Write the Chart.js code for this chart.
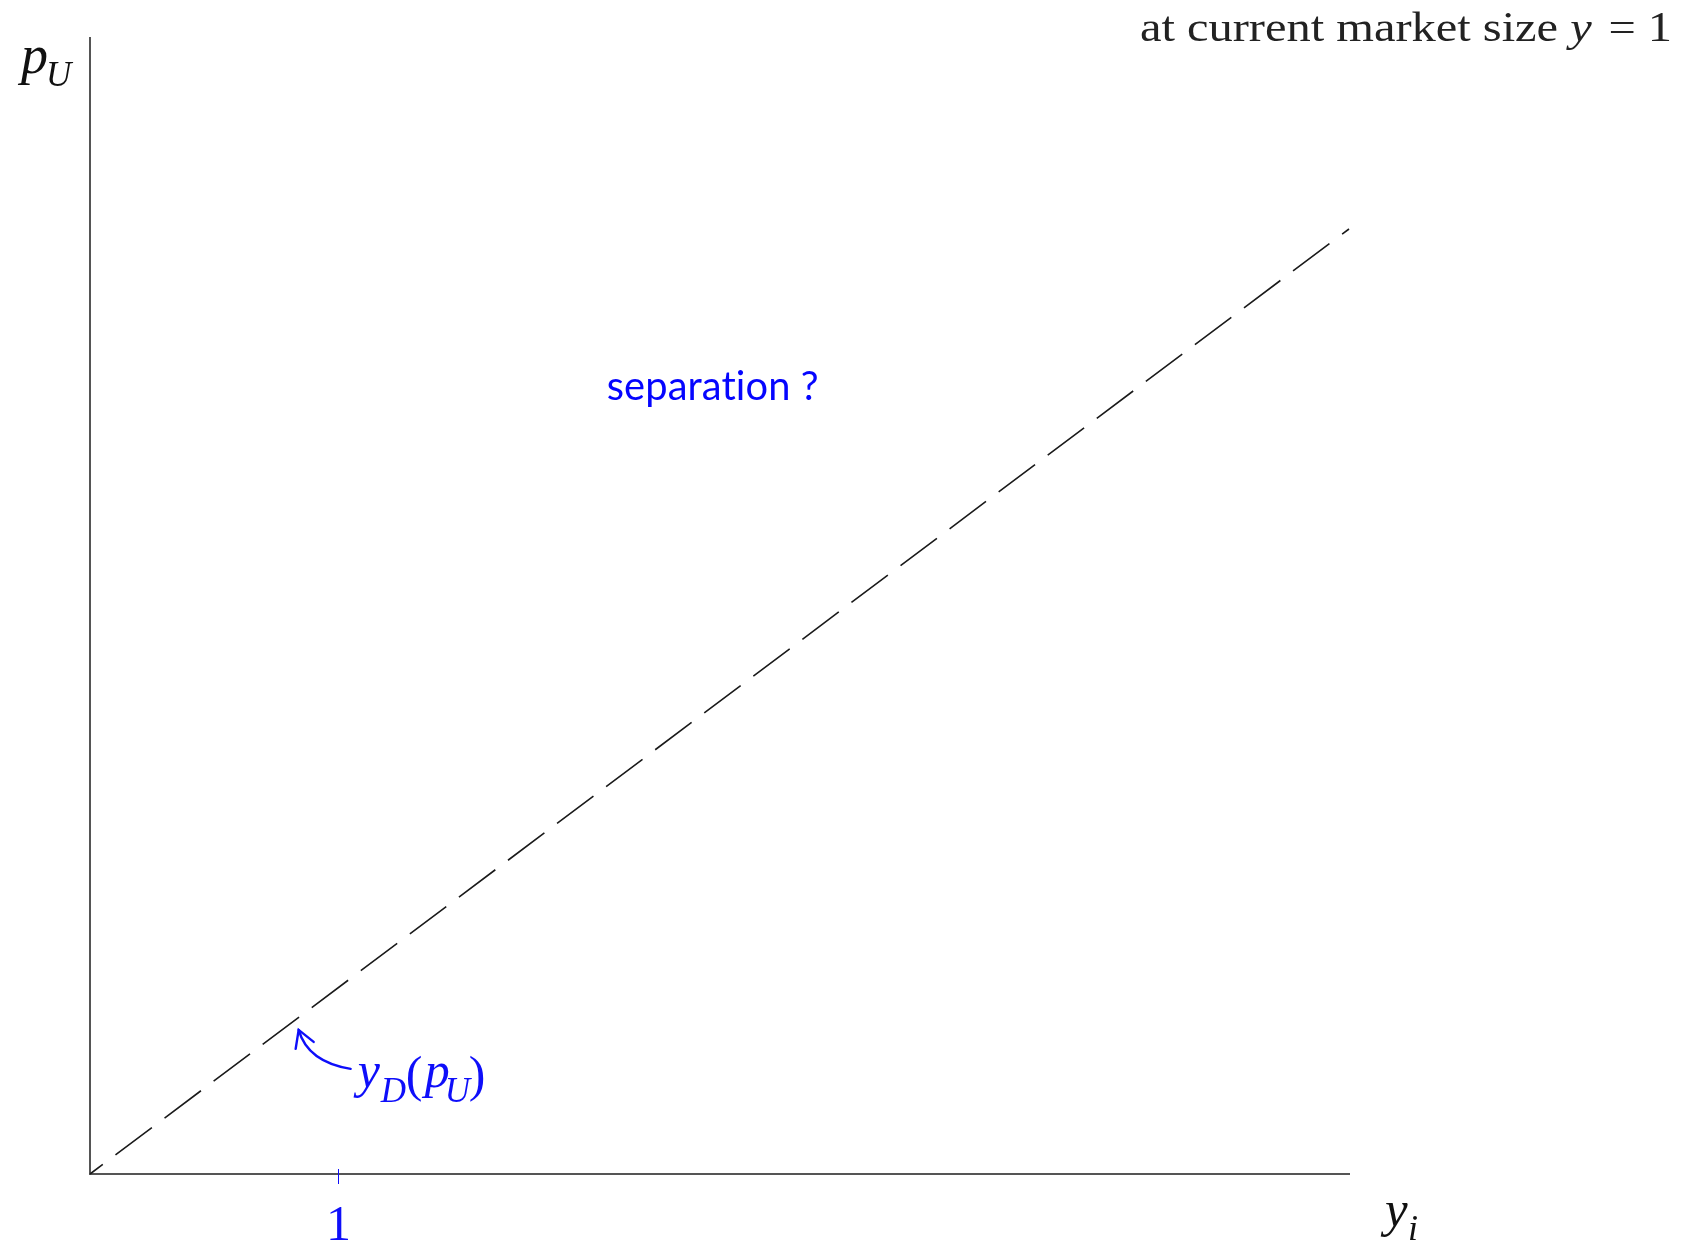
<!DOCTYPE html>
<html>
<head>
<meta charset="utf-8">
<script src="https://cdn.jsdelivr.net/npm/chart.js@4.4.1/dist/chart.umd.min.js"></script>
<style>
  html, body { margin: 0; padding: 0; background: #fff; }
  #wrap { width: 1691px; height: 1242px; position: relative; }
</style>
</head>
<body>
<div id="wrap"><canvas id="chart"></canvas></div>
<script>
// Recta y_D(p_U): discontinua, desde el origen
const lineX = [0, 5.08];
const lineY = [0, 3.81];

// Límites de los ejes
const xRange = [0, 5.08];
const yRange = [0, 4.58];

// Única marca del eje horizontal
const xTickValues = [1];
const xTickLabels = ['1'];

// Punto de la recta al que apunta la flecha
const arrowAt = 0.85;

const blue = 'rgb(14,14,250)';
const serif = '"Liberation Serif", "Times New Roman", serif';

/**
 * Escribe un trozo de texto y devuelve su ancho.
 */
const put = (ctx, text, x, y, size, italic, color) => {
  ctx.font = `${italic ? 'italic ' : ''}${size}px ${serif}`;
  ctx.fillStyle = color;
  ctx.fillText(text, x, y);
  return ctx.measureText(text).width;
};

// Textos, flecha, marca del eje y rótulos de ejes
const annotations = {
  id: 'annotations',
  afterDraw(chart) {
    const { ctx, chartArea: area, scales: { x, y } } = chart;
    ctx.save();
    ctx.textBaseline = 'alphabetic';
    ctx.textAlign = 'left';

    // marca y etiqueta del eje horizontal
    xTickValues.forEach((v, i) => {
      const px = Math.round(x.getPixelForValue(v)) + 0.5;
      ctx.strokeStyle = blue;
      ctx.lineWidth = 1;
      ctx.beginPath();
      ctx.moveTo(px, area.bottom - 5);
      ctx.lineTo(px, area.bottom + 10);
      ctx.stroke();
      ctx.textAlign = 'center';
      put(ctx, xTickLabels[i], px, area.bottom + 66, 50, false, blue);
      ctx.textAlign = 'left';
    });

    // rótulo del eje vertical: p_U
    put(ctx, 'p', area.left - 69, area.top + 35, 54, true, '#111');
    put(ctx, 'U', area.left - 44, area.top + 48, 35, true, '#111');

    // rótulo del eje horizontal: y_i
    put(ctx, 'y', area.right + 36, area.bottom + 52, 51, true, '#111');
    put(ctx, 'i', area.right + 59, area.bottom + 66, 36, true, '#111');

    // título en la esquina superior derecha
    ctx.font = `42px ${serif}`;
    const a = 'at current market size ';
    const b = ' = 1';
    const wa = ctx.measureText(a).width;
    const wb = ctx.measureText(b).width;
    ctx.font = `italic 42px ${serif}`;
    const wy = ctx.measureText('y').width;
    const total = wa + wy + wb + 4;
    const target = 532;
    ctx.save();
    ctx.translate(1672 - target, 41);
    ctx.scale(target / total, 1);
    put(ctx, a, 0, 0, 42, false, '#222');
    put(ctx, 'y', wa, 0, 42, true, '#222');
    put(ctx, b, wa + wy + 4, 0, 42, false, '#222');
    ctx.restore();

    // "separation ?"
    ctx.font = `40px Lato, "Open Sans", sans-serif`;
    ctx.letterSpacing = '0.1px';
    const sep = 'separation ?';
    const ws = ctx.measureText(sep).width;
    ctx.save();
    ctx.translate(x.getPixelForValue(2.085), y.getPixelForValue(3.12));
    ctx.scale(212 / ws, 1);
    ctx.fillStyle = 'rgb(5,5,255)';
    ctx.fillText(sep, 0, 0);
    ctx.restore();
    ctx.letterSpacing = '0px';

    // flecha curva hacia la recta
    const ax = x.getPixelForValue(arrowAt);
    const ay = y.getPixelForValue(arrowAt * lineY[1] / lineX[1]);
    const tipX = ax - 2;
    const tipY = ay + 14;
    ctx.strokeStyle = blue;
    ctx.lineWidth = 2.4;
    ctx.lineCap = 'round';
    ctx.beginPath();
    ctx.moveTo(tipX + 52, tipY + 39);
    ctx.quadraticCurveTo(tipX + 9, tipY + 32, tipX, tipY);
    ctx.stroke();
    ctx.beginPath();
    ctx.moveTo(tipX - 3, tipY + 19);
    ctx.lineTo(tipX, tipY);
    ctx.lineTo(tipX + 15, tipY + 12);
    ctx.stroke();

    // y_D(p_U)
    const bx = tipX + 59;
    const by = tipY + 57;
    put(ctx, 'y', bx, by, 50, true, blue);
    put(ctx, 'D', bx + 23, by + 15, 35, true, blue);
    put(ctx, '(', bx + 48, by + 4, 50, false, blue);
    put(ctx, 'p', bx + 67, by, 50, true, blue);
    put(ctx, 'U', bx + 87, by + 15, 35, true, blue);
    put(ctx, ')', bx + 111, by + 4, 50, false, blue);

    ctx.restore();
  }
};

const ctx = document.getElementById('chart');

new Chart(ctx, {
  type: 'scatter',
  data: {
    datasets: [{
      data: lineX.map((v, i) => ({ x: v, y: lineY[i] })),
      showLine: true,
      borderColor: '#1a1a1a',
      borderWidth: 1.6,
      borderDash: [45.5, 15.85],
      borderDashOffset: 29.5,
      pointRadius: 0,
      clip: false,
    }],
  },
  options: {
    responsive: true,
    maintainAspectRatio: false,
    animation: false,
    events: [],
    layout: {
      padding: { left: 90, top: 38, right: 342, bottom: 68 },
    },
    plugins: {
      legend: { display: false },
      tooltip: { enabled: false },
    },
    scales: {
      x: {
        type: 'linear',
        min: xRange[0],
        max: xRange[1],
        afterFit: (scale) => { scale.height = 0; },
        grid: { display: false, drawTicks: false },
        border: { display: true, color: '#555', width: 2 },
        ticks: { display: false },
      },
      y: {
        type: 'linear',
        min: yRange[0],
        max: yRange[1],
        afterFit: (scale) => { scale.width = 0; },
        grid: { display: false, drawTicks: false },
        border: { display: true, color: '#555', width: 2 },
        ticks: { display: false },
      },
    },
  },
  plugins: [annotations],
});
</script>
</body>
</html>
